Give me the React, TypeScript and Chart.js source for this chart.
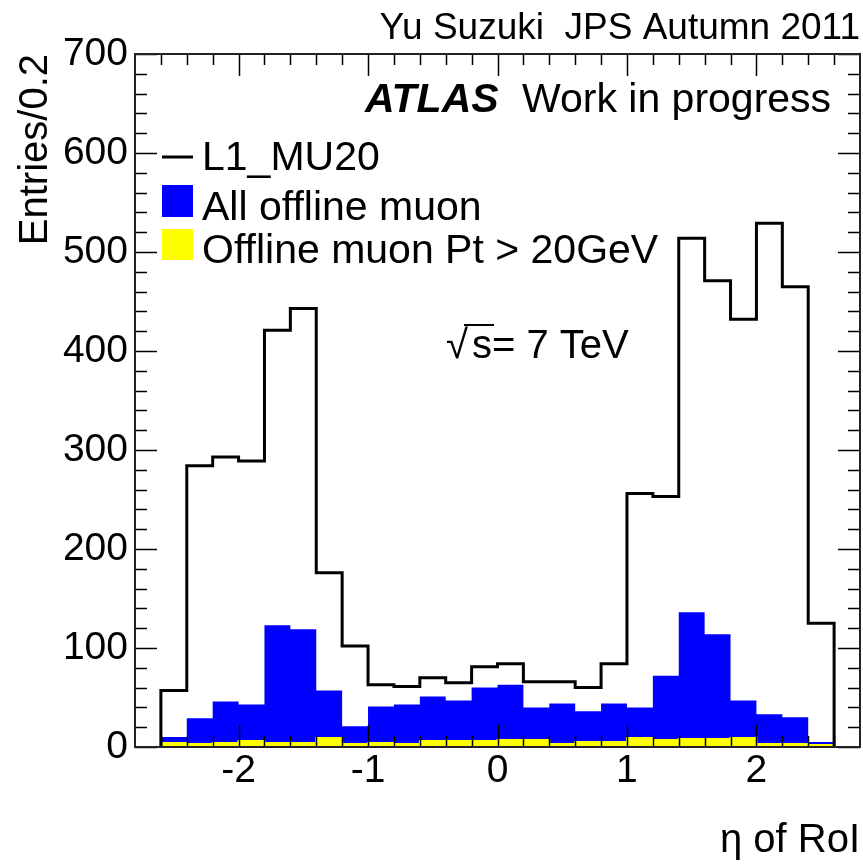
import React, { useEffect, useRef } from 'react';
import { Chart, registerables } from 'chart.js';

Chart.register(...registerables);

// ---- data (bins of width 0.2 in eta) ----
const binEdges = [
  -2.6, -2.4, -2.2, -2.0, -1.8, -1.6, -1.4, -1.2, -1.0, -0.8, -0.6, -0.4, -0.2,
  0.0, 0.2, 0.4, 0.6, 0.8, 1.0, 1.2, 1.4, 1.6, 1.8, 2.0, 2.2, 2.4, 2.6,
];
const l1Mu20Counts = [
  57, 284, 293, 289, 421, 443, 176, 102, 63, 61, 70, 65, 81,
  84, 66, 66, 60, 84, 256, 253, 514, 471, 432, 529, 465, 125,
];
const allOfflineCounts = [
  10, 29, 46, 43, 123, 119, 57, 21, 41, 43, 51, 47, 60,
  63, 40, 44, 36, 44, 40, 72, 136, 114, 47, 33, 30, 5,
];
const offlinePt20Counts = [
  4, 3, 4, 6, 4, 4, 9, 3, 4, 3, 6, 6, 6,
  7, 7, 3, 5, 5, 9, 7, 8, 8, 9, 3, 3, 2,
];
const xMin = -2.8;
const xMax = 2.8;
const yMin = 0;
const yMax = 700;
const xTickValues = [-2, -1, 0, 1, 2];
const yTickValues = [0, 100, 200, 300, 400, 500, 600, 700];

const seriesLabels = ['L1_MU20', 'All offline muon', 'Offline muon Pt > 20GeV'];

const FONT = "'Liberation Sans', Arial, Helvetica, sans-serif";

function histPoints(counts: number[], edges: number[]) {
  const pts: { x: number; y: number }[] = [{ x: edges[0], y: 0 }];
  counts.forEach((c, i) => {
    pts.push({ x: edges[i], y: c });
    pts.push({ x: edges[i + 1], y: c });
  });
  pts.push({ x: edges[edges.length - 1], y: 0 });
  return pts;
}

const framePlugin = {
  id: 'rootFrame',
  afterDatasetsDraw(chart: any) {
    const { ctx, chartArea: a, scales } = chart;
    const x = scales.x;
    const y = scales.y;
    ctx.save();
    ctx.strokeStyle = '#000';
    ctx.lineWidth = 1.5;
    const seg = (x1: number, y1: number, x2: number, y2: number) => {
      ctx.beginPath();
      ctx.moveTo(x1, y1);
      ctx.lineTo(x2, y2);
      ctx.stroke();
    };
    // x ticks (inward, bottom and top)
    for (let k = Math.ceil(xMin * 5); k <= Math.floor(xMax * 5); k++) {
      const v = k / 5;
      const px = Math.round(x.getPixelForValue(v)) + 0.5;
      if (px <= a.left + 1 || px >= a.right - 1) continue;
      const len = k % 5 === 0 ? 22 : 11;
      seg(px, a.bottom, px, a.bottom - len);
      seg(px, a.top, px, a.top + len);
    }
    // y ticks (inward, left and right)
    for (let v = yMin; v <= yMax; v += 20) {
      const py = Math.round(y.getPixelForValue(v)) + 0.5;
      const len = v % 100 === 0 ? 22 : 12;
      seg(a.left, py, a.left + len, py);
      seg(a.right, py, a.right - len, py);
    }
    ctx.strokeStyle = '#222';
    ctx.lineWidth = 2;
    ctx.strokeRect(a.left, a.top, a.right - a.left, a.bottom - a.top);
    ctx.restore();
  },
  afterDraw(chart: any) {
    const { ctx } = chart;
    ctx.save();
    ctx.fillStyle = '#000';
    ctx.textBaseline = 'alphabetic';
    ctx.textAlign = 'left';
    // ATLAS label
    ctx.font = `italic bold 41px ${FONT}`;
    ctx.fillText('ATLAS', 365, 112);
    ctx.font = `41px ${FONT}`;
    ctx.fillText('Work in progress', 522, 112);
    // sqrt(s)
    ctx.font = `40px ${FONT}`;
    ctx.fillText('\u221A', 446, 358);
    ctx.fillText('s= 7 TeV', 472, 358);
    ctx.strokeStyle = '#000';
    ctx.lineWidth = 2;
    ctx.beginPath();
    ctx.moveTo(464, 325);
    ctx.lineTo(494, 325);
    ctx.stroke();
    // legend
    ctx.lineWidth = 3;
    ctx.beginPath();
    ctx.moveTo(162, 157);
    ctx.lineTo(193, 157);
    ctx.stroke();
    ctx.fillStyle = '#0000ff';
    ctx.fillRect(162, 185, 31, 32);
    ctx.fillStyle = '#ffff00';
    ctx.fillRect(162, 229, 31, 31);
    ctx.fillStyle = '#000';
    ctx.font = `41px ${FONT}`;
    ctx.fillText(seriesLabels[0], 202, 170);
    ctx.fillText(seriesLabels[1], 202, 220);
    ctx.fillText(seriesLabels[2], 202, 263);
    ctx.restore();
  },
};

export default function App() {
  const canvasRef = useRef<HTMLCanvasElement | null>(null);

  useEffect(() => {
    if (!canvasRef.current) return;
    const yellowPts = [
      { x: xMin, y: 0 },
      ...histPoints(offlinePt20Counts, binEdges),
      { x: xMax, y: 0 },
    ];
    const chart = new Chart(canvasRef.current, {
      type: 'line',
      data: {
        datasets: [
          {
            label: seriesLabels[0],
            data: histPoints(l1Mu20Counts, binEdges),
            borderColor: '#000000',
            borderWidth: 3,
            fill: false,
            pointRadius: 0,
            tension: 0,
          },
          {
            label: seriesLabels[2],
            data: yellowPts,
            borderColor: '#ffff00',
            borderWidth: 2,
            backgroundColor: '#ffff00',
            fill: 'origin',
            pointRadius: 0,
            tension: 0,
          },
          {
            label: seriesLabels[1],
            data: histPoints(allOfflineCounts, binEdges),
            borderColor: 'rgba(0,0,255,0)',
            borderWidth: 0,
            backgroundColor: '#0000ff',
            fill: 'origin',
            pointRadius: 0,
            tension: 0,
          },
        ],
      },
      options: {
        animation: false,
        responsive: true,
        maintainAspectRatio: false,
        layout: { padding: { left: 0, right: 3, top: 0, bottom: 0 } },
        plugins: {
          legend: { display: false },
          tooltip: { enabled: false },
          title: {
            display: true,
            text: 'Yu Suzuki  JPS Autumn 2011',
            align: 'end',
            color: '#000',
            font: { family: FONT, size: 37, weight: 'normal' },
            padding: { top: 7, bottom: 2.6 },
          },
        },
        scales: {
          x: {
            type: 'linear',
            min: xMin,
            max: xMax,
            afterBuildTicks: (s: any) => {
              s.ticks = xTickValues.map((v) => ({ value: v }));
            },
            afterFit: (s: any) => {
              s.height = 118;
            },
            ticks: {
              color: '#000',
              font: { family: FONT, size: 39 },
              padding: 1,
              maxRotation: 0,
              autoSkip: false,
            },
            grid: { display: false, drawTicks: false },
            border: { display: false },
            title: {
              display: true,
              text: '\u03B7 of RoI',
              align: 'end',
              color: '#000',
              font: { family: FONT, size: 40 },
              padding: { top: 0, bottom: 0 },
            },
          },
          y: {
            type: 'linear',
            min: yMin,
            max: yMax,
            afterBuildTicks: (s: any) => {
              s.ticks = yTickValues.map((v) => ({ value: v }));
            },
            afterFit: (s: any) => {
              s.width = 135;
            },
            ticks: {
              color: '#000',
              font: { family: FONT, size: 39 },
              padding: 7,
              autoSkip: false,
            },
            grid: { display: false, drawTicks: false },
            border: { display: false },
            title: {
              display: true,
              text: 'Entries/0.2',
              align: 'end',
              color: '#000',
              font: { family: FONT, size: 40 },
              padding: { top: 12, bottom: 0 },
            },
          },
        },
      },
      plugins: [framePlugin],
    } as any);
    return () => chart.destroy();
  }, []);

  return (
    <div style={{ position: 'absolute', left: 0, top: 0, width: 863, height: 865, background: '#fff' }}>
      <canvas ref={canvasRef} />
    </div>
  );
}
